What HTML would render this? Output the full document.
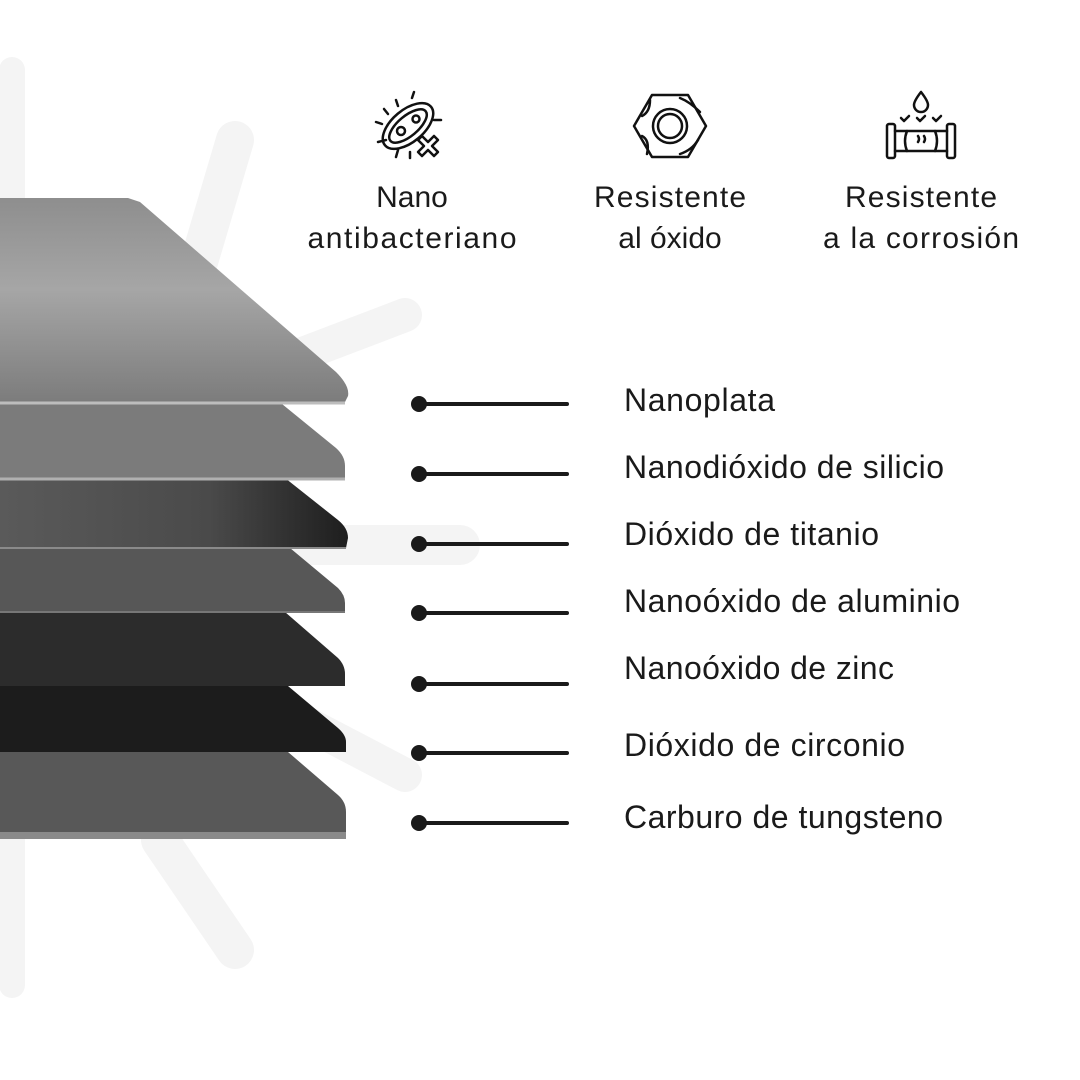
<!DOCTYPE html>
<html><head><meta charset="utf-8"><style>
html,body{margin:0;padding:0;background:#fff;}
svg{display:block;}
</style></head><body>
<svg width="1080" height="1080" viewBox="0 0 1080 1080" xmlns="http://www.w3.org/2000/svg">
<defs>
<linearGradient id="g1" x1="0" y1="0" x2="0" y2="1"><stop offset="0" stop-color="#8e8e8e"/><stop offset="0.45" stop-color="#a6a6a6"/><stop offset="1" stop-color="#7c7c7c"/></linearGradient>
<linearGradient id="g3" x1="0" y1="0" x2="1" y2="0"><stop offset="0" stop-color="#5a5a5a"/><stop offset="0.6" stop-color="#4a4a4a"/><stop offset="1" stop-color="#1e1e1e"/></linearGradient>
</defs>
<g stroke="#f4f4f4" stroke-linecap="round" fill="none">
<line x1="12" y1="70" x2="12" y2="985" stroke-width="26"/>
<line x1="170" y1="360" x2="235" y2="140" stroke-width="38"/>
<line x1="300" y1="355" x2="405" y2="315" stroke-width="34"/>
<line x1="300" y1="545" x2="460" y2="545" stroke-width="40"/>
<line x1="300" y1="720" x2="405" y2="775" stroke-width="34"/>
<line x1="160" y1="840" x2="235" y2="950" stroke-width="38"/>
</g>
<!-- layers bottom to top -->
<path d="M0 752 L288 752 L338 795 Q346 802 346 812 L346 838 L0 838 Z" fill="#585858"/>
<rect x="0" y="832" width="346" height="7" fill="#8a8a8a"/>
<path d="M0 686 L288 686 L338 728 Q346 735 346 742 L346 752 L0 752 Z" fill="#1c1c1c"/>
<path d="M0 612 L285 612 L338 658 Q345 665 345 674 L345 686 L0 686 Z" fill="#2c2c2c"/>
<path d="M0 548 L290 548 L338 588 Q345 595 345 603 L345 612 L0 612 Z" fill="#575757"/>
<line x1="0" y1="612" x2="345" y2="612" stroke="#777" stroke-width="2"/>
<path d="M0 478 L285 478 L338 520 Q348 528 348 538 L346 548 L0 548 Z" fill="url(#g3)"/>
<line x1="0" y1="548" x2="346" y2="548" stroke="#8a8a8a" stroke-width="2"/>
<path d="M0 404 L282 404 L336 448 Q345 456 345 466 L345 478 L0 478 Z" fill="#7b7b7b"/>
<line x1="0" y1="479" x2="345" y2="479" stroke="#b0b0b0" stroke-width="3"/>
<path d="M0 198 L128 198 L140 202 L336 372 Q350 386 348 396 L345 402 L0 402 Z" fill="url(#g1)"/>
<line x1="0" y1="403" x2="345" y2="403" stroke="#bdbdbd" stroke-width="3"/>
<!-- connectors -->
<g stroke="#1a1a1a" stroke-width="4" stroke-linecap="round" fill="#1a1a1a">
<line x1="419" y1="404" x2="567" y2="404"/><circle cx="419" cy="404" r="8" stroke="none"/>
<line x1="419" y1="474" x2="567" y2="474"/><circle cx="419" cy="474" r="8" stroke="none"/>
<line x1="419" y1="544" x2="567" y2="544"/><circle cx="419" cy="544" r="8" stroke="none"/>
<line x1="419" y1="613" x2="567" y2="613"/><circle cx="419" cy="613" r="8" stroke="none"/>
<line x1="419" y1="684" x2="567" y2="684"/><circle cx="419" cy="684" r="8" stroke="none"/>
<line x1="419" y1="753" x2="567" y2="753"/><circle cx="419" cy="753" r="8" stroke="none"/>
<line x1="419" y1="823" x2="567" y2="823"/><circle cx="419" cy="823" r="8" stroke="none"/>
</g>
<g font-family="Liberation Sans, sans-serif" font-size="32" fill="#1a1a1a">
<text x="624" y="411" textLength="151">Nanoplata</text>
<text x="624" y="478" textLength="320">Nanodióxido de silicio</text>
<text x="624" y="545" textLength="255">Dióxido de titanio</text>
<text x="624" y="612" textLength="336">Nanoóxido de aluminio</text>
<text x="624" y="679" textLength="270">Nanoóxido de zinc</text>
<text x="624" y="756" textLength="281">Dióxido de circonio</text>
<text x="624" y="828" textLength="319">Carburo de tungsteno</text>
</g>
<g font-family="Liberation Sans, sans-serif" font-size="30" fill="#1a1a1a" text-anchor="middle">
<text x="412" y="207">Nano</text><text x="412" y="248" textLength="209">antibacteriano</text>
<text x="670" y="207" textLength="152">Resistente</text><text x="670" y="248">al óxido</text>
<text x="921" y="207" textLength="152">Resistente</text><text x="921" y="248" textLength="196">a la corrosión</text>
</g>
<!-- icons -->
<g stroke="#111" stroke-width="2.5" fill="none" stroke-linecap="round" stroke-linejoin="round">
<g transform="translate(408,126)">
<ellipse cx="0" cy="0" rx="30" ry="16" transform="rotate(-40)"/>
<ellipse cx="0" cy="0" rx="23" ry="10" transform="rotate(-40)"/>
<circle cx="-7" cy="5" r="4"/><circle cx="8" cy="-7" r="3.5"/>
<line x1="-26" y1="-2" x2="-32" y2="-4"/><line x1="-20" y1="-12" x2="-24" y2="-17"/><line x1="-10" y1="-20" x2="-12" y2="-26"/>
<line x1="4" y1="-28" x2="6" y2="-34"/><line x1="26" y1="-6" x2="33" y2="-6"/><line x1="-22" y1="14" x2="-30" y2="16"/>
<line x1="-10" y1="24" x2="-12" y2="31"/><line x1="2" y1="26" x2="2" y2="32"/>
<path d="M14 10 l6 6 l6 -6 l4 4 l-6 6 l6 6 l-4 4 l-6 -6 l-6 6 l-4 -4 l6 -6 l-6 -6 Z"/>
</g>
<g transform="translate(670,126)">
<polygon points="-36,0 -18,-31 18,-31 36,0 18,31 -18,31"/>
<circle r="17"/><circle r="12"/>
<path d="M-28 -10 q8 -4 8 -16"/><path d="M10 -28 q10 4 20 14"/><path d="M-28 10 q8 4 5 18"/><path d="M10 28 q12 -4 18 -14"/>
</g>
<g transform="translate(921,126)">
<path d="M0 -34 q-7 9 -7 13 a7 7 0 0 0 14 0 q0 -4 -7 -13 Z"/>
<rect x="-34" y="-2" width="8" height="34" rx="2"/><rect x="26" y="-2" width="8" height="34" rx="2"/>
<line x1="-26" y1="5" x2="26" y2="5"/><line x1="-26" y1="25" x2="26" y2="25"/>
<path d="M-14 5 q-4 10 0 20 M14 5 q4 10 0 20"/>
<path d="M-3 10 q2 3 0 6 M3 10 q2 3 0 6"/>
<path d="M-20 -8 l3 3 l5 -5 M-4 -8 l3 3 l5 -5 M12 -8 l3 3 l5 -5"/>
</g>
</g>
</svg>
</body></html>
